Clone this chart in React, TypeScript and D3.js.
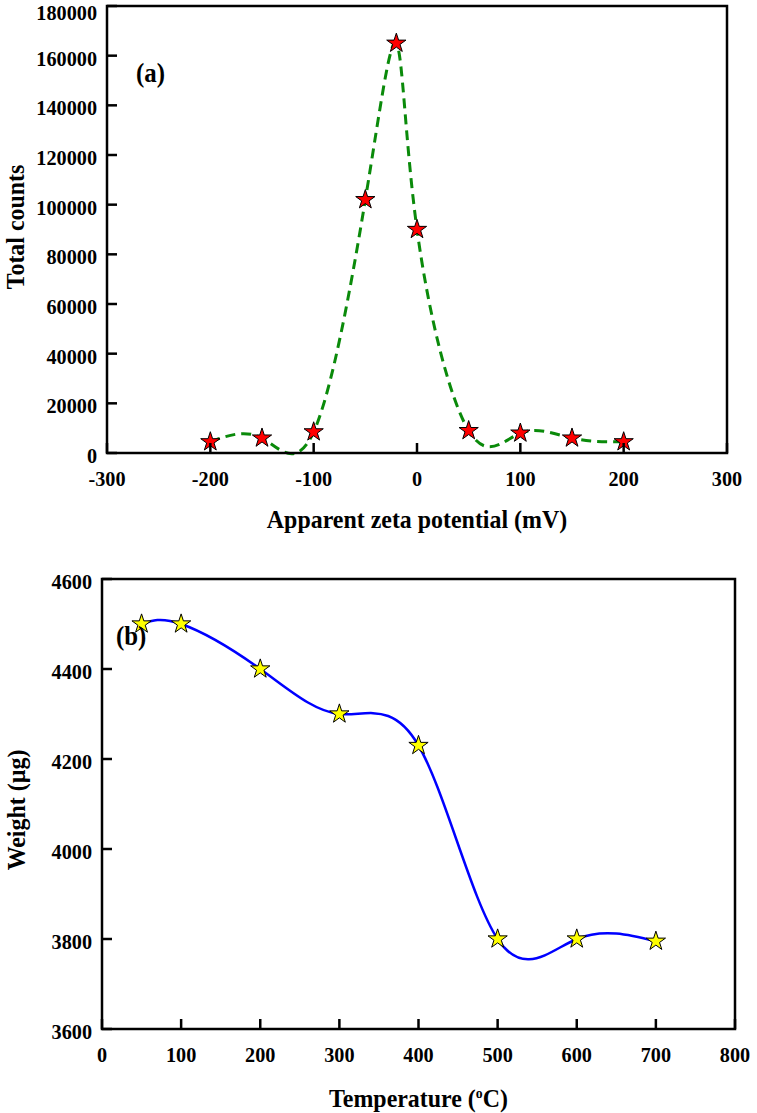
import React from "react";
import * as d3 from "d3";

// Chart (a) data
const zetaX = [-200, -150, -100, -50, -20, 0, 50, 100, 150, 200];
const zetaCounts = [4500, 6000, 8500, 102000, 165000, 90000, 9000, 8000, 6000, 4500];
const zetaXTicks = [-300, -200, -100, 0, 100, 200, 300];
const zetaYTicks = [0, 20000, 40000, 60000, 80000, 100000, 120000, 140000, 160000, 180000];

// Chart (b) data
const tempX = [50, 100, 200, 300, 400, 500, 600, 700];
const weightY = [4500, 4500, 4400, 4300, 4230, 3800, 3800, 3795];
const tempXTicks = [0, 100, 200, 300, 400, 500, 600, 700, 800];
const weightYTicks = [3600, 3800, 4000, 4200, 4400, 4600];

const FONT = "'Liberation Serif', 'Times New Roman', serif";
const SX = 0.92;

function T(props: { x: number; y: number; size: number; anchor?: string; rotate?: number; children: React.ReactNode }) {
  const r = props.rotate ? ` rotate(${props.rotate})` : "";
  return (
    <text
      transform={`translate(${props.x},${props.y})${r} scale(${SX},1)`}
      textAnchor={props.anchor || "start"}
      fontSize={props.size}
    >
      {props.children}
    </text>
  );
}

type PanelProps = {
  left: number; right: number; top: number; bottom: number;
  xDomain: [number, number]; yDomain: [number, number];
  xTicks: number[]; yTicks: number[];
  xs: number[]; ys: number[];
  lineColor: string; dash?: string; lineWidth: number;
  starFill: string;
  xTitle: React.ReactNode; yTitle: string; yTitleX: number; yTitleCy: number; xTitleY: number;
  tag: string; tagX: number; tagY: number;
};

function Panel(p: PanelProps) {
  const x = d3.scaleLinear().domain(p.xDomain).range([p.left, p.right]);
  const y = d3.scaleLinear().domain(p.yDomain).range([p.bottom, p.top]);
  const pts: [number, number][] = p.xs.map((v, i) => [x(v), y(p.ys[i])]);
  const line = d3.line().curve(d3.curveNatural)(pts) || "";
  const star = d3.symbol().type(d3.symbolStar).size(115)() || "";
  const tickLen = 10;
  const cx = (p.left + p.right) / 2;
  return (
    <g fontFamily={FONT} fontWeight="bold">
      <path d={line} fill="none" stroke={p.lineColor} strokeWidth={p.lineWidth} strokeDasharray={p.dash} />
      {pts.map((pt, i) => (
        <path key={i} d={star} transform={`translate(${pt[0]},${pt[1]})`} fill={p.starFill} stroke="#000" strokeWidth={1} />
      ))}
      <rect x={p.left} y={p.top} width={p.right - p.left} height={p.bottom - p.top} fill="none" stroke="#000" strokeWidth={2.5} />
      {p.xTicks.map((t) => (
        <g key={"x" + t}>
          <line x1={x(t)} x2={x(t)} y1={p.bottom} y2={p.bottom - tickLen} stroke="#000" strokeWidth={2.5} />
          <T x={x(t)} y={p.bottom + 33} size={22} anchor="middle">{t}</T>
        </g>
      ))}
      {p.yTicks.map((t) => (
        <g key={"y" + t}>
          <line x1={p.left} x2={p.left + tickLen} y1={y(t)} y2={y(t)} stroke="#000" strokeWidth={2.5} />
          <T x={p.left - 10} y={Math.max(y(t) + 10, 20)} size={22} anchor="end">{t}</T>
        </g>
      ))}
      <T x={cx} y={p.xTitleY} size={26} anchor="middle">{p.xTitle}</T>
      <T x={p.yTitleX} y={p.yTitleCy} size={26} anchor="middle" rotate={-90}>{p.yTitle}</T>
      <T x={p.tagX} y={p.tagY} size={27}>{p.tag}</T>
    </g>
  );
}

export default function App() {
  return (
    <svg width={757} height={1113} style={{ position: "absolute", left: 0, top: 0, background: "#fff" }}>
      <rect width={757} height={1113} fill="#fff" />
      <Panel
        left={107} right={727} top={6} bottom={453}
        xDomain={[-300, 300]} yDomain={[0, 180000]}
        xTicks={zetaXTicks} yTicks={zetaYTicks}
        xs={zetaX} ys={zetaCounts}
        lineColor="#0a8a0a" dash="10,6" lineWidth={3}
        starFill="#ff0000"
        xTitle="Apparent zeta potential (mV)" xTitleY={528}
        yTitle="Total counts" yTitleX={24} yTitleCy={227}
        tag="(a)" tagX={136} tagY={82}
      />
      <Panel
        left={102} right={735} top={579} bottom={1029}
        xDomain={[0, 800]} yDomain={[3600, 4600]}
        xTicks={tempXTicks} yTicks={weightYTicks}
        xs={tempX} ys={weightY}
        lineColor="#0000ff" lineWidth={2.5}
        starFill="#ffff00"
        xTitle={<>Temperature (<tspan dy={-9} fontSize={15}>o</tspan><tspan dy={9}>C)</tspan></>} xTitleY={1107}
        yTitle="Weight (µg)" yTitleX={25} yTitleCy={810}
        tag="(b)" tagX={116} tagY={645}
      />
    </svg>
  );
}
